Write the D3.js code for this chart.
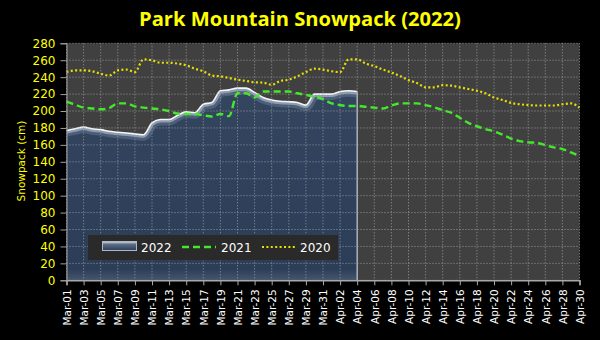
<!DOCTYPE html>
<html><head><meta charset="utf-8">
<script src="https://cdn.jsdelivr.net/npm/d3@7"></script>
<style>html,body{margin:0;padding:0;background:#000;}svg{display:block;}</style>
</head><body>
<svg id="chart" width="600" height="340"></svg>
<script>
const days = ["Mar-01","Mar-02","Mar-03","Mar-04","Mar-05","Mar-06","Mar-07","Mar-08","Mar-09","Mar-10",
"Mar-11","Mar-12","Mar-13","Mar-14","Mar-15","Mar-16","Mar-17","Mar-18","Mar-19","Mar-20",
"Mar-21","Mar-22","Mar-23","Mar-24","Mar-25","Mar-26","Mar-27","Mar-28","Mar-29","Mar-30","Mar-31",
"Apr-01","Apr-02","Apr-03","Apr-04","Apr-05","Apr-06","Apr-07","Apr-08","Apr-09","Apr-10",
"Apr-11","Apr-12","Apr-13","Apr-14","Apr-15","Apr-16","Apr-17","Apr-18","Apr-19","Apr-20",
"Apr-21","Apr-22","Apr-23","Apr-24","Apr-25","Apr-26","Apr-27","Apr-28","Apr-29","Apr-30"];
const s2022 = [177,179,181,179,178,176,175,174,173,172,186,190,190,195,199,198,208,210,224,225,
227,227,222,216,213,211.5,211,210,207,220,220,220,223,224,223];
const s2021 = [211,207.5,204,203,202,203.5,209,209,205.5,204,203,202,200,197,196.5,196.5,195,193.5,196.5,194,
221,221,216,223,223,223,223,221,219,217,214,209,207,206,206,205,204,203,206.5,209,
209,209,207,204.5,201,198,192,186,182,178.5,176,172,167.5,164.5,163,162.5,159.5,157,155,151,147];
const s2020 = [246,248,248,247,244,242,248,249,246,261,260,257,257,256,254,250,247,242,241,239,
237,235.5,234,233.5,231,235.5,237,241,246,250,249,247,246,261,261,256,253,249,245.5,241.5,
236.5,233,228,228,230.5,230,228,226,224,221,216,213,209.5,208,207,206.5,206.5,206.5,208,209,204];
const yTicks = [0,20,40,60,80,100,120,140,160,180,200,220,240,260,280];
const xTickLabels = days.filter((d,i)=>i%2===0);
const seriesNames = ["2022","2021","2020"];
const title = "Park Mountain Snowpack (2022)";
const yTitle = "Snowpack (cm)";

const L=66.5, R=579.5, T=43.3, B=280.3;
const svg = d3.select("#chart");
const x = d3.scalePoint().domain(days).range([L,R]);
const y = d3.scaleLinear().domain([0,280]).range([B,T]);
const font = "DejaVu Sans, Verdana, sans-serif";

const defs = svg.append("defs");
const ag = defs.append("linearGradient").attr("id","areaGrad").attr("x1",0).attr("y1",0).attr("x2",0).attr("y2",1);
ag.append("stop").attr("offset","0%").attr("stop-color","#33455f");
ag.append("stop").attr("offset","94%").attr("stop-color","#2c3d58");
ag.append("stop").attr("offset","100%").attr("stop-color","#46566e");
const lg = defs.append("linearGradient").attr("id","legGrad").attr("x1",0).attr("y1",0).attr("x2",0).attr("y2",1);
lg.append("stop").attr("offset","0%").attr("stop-color","#dfe6ee");
lg.append("stop").attr("offset","30%").attr("stop-color","#5d6e86");
lg.append("stop").attr("offset","100%").attr("stop-color","#2c3d58");

// plot background
svg.append("rect").attr("x",L).attr("y",T).attr("width",R-L).attr("height",B-T).attr("fill","#404040");

// area 2022
const d22 = s2022.map((v,i)=>({d:days[i],v}));
const area = d3.area().x(d=>x(d.d)).y0(B).y1(d=>y(d.v)).curve(d3.curveMonotoneX);
const topLine = d3.line().x(d=>x(d.d)).y(d=>y(d.v)).curve(d3.curveMonotoneX);
defs.append("clipPath").attr("id","areaClip").append("path").attr("d",area(d22));
svg.append("path").attr("d",area(d22)).attr("fill","url(#areaGrad)");
const glow = svg.append("g").attr("clip-path","url(#areaClip)");
glow.append("path").attr("d",topLine(d22)).attr("fill","none").attr("stroke","#8090a8").attr("stroke-width",12).attr("opacity",0.35);
glow.append("path").attr("d",topLine(d22)).attr("fill","none").attr("stroke","#b8c4d4").attr("stroke-width",6).attr("opacity",0.6);
svg.append("path").attr("d",topLine(d22)).attr("fill","none").attr("stroke","#f4f6fa").attr("stroke-width",1.6);
svg.append("line").attr("x1",x(days[s2022.length-1])).attr("x2",x(days[s2022.length-1]))
  .attr("y1",y(s2022[s2022.length-1])).attr("y2",B).attr("stroke","#a8b0bc").attr("stroke-width",1.5);

// grid
const grid = svg.append("g");
yTicks.forEach(t=>{
  grid.append("line").attr("x1",L).attr("x2",R).attr("y1",y(t)).attr("y2",y(t))
    .attr("stroke","#a8a8a8").attr("stroke-width",1).attr("stroke-dasharray","1,2").attr("opacity",0.85);
});
xTickLabels.forEach(t=>{
  grid.append("line").attr("x1",x(t)).attr("x2",x(t)).attr("y1",T).attr("y2",B)
    .attr("stroke","#a8a8a8").attr("stroke-width",1).attr("stroke-dasharray","1,2").attr("opacity",0.85);
});

// lines 2021, 2020
const line = d3.line().x((d,i)=>x(days[i])).y(d=>y(d)).curve(d3.curveMonotoneX);
svg.append("path").attr("d",line(s2020)).attr("fill","none").attr("stroke","#e8e000").attr("stroke-width",2.2).attr("stroke-dasharray","2,2.4");
svg.append("path").attr("d",line(s2021)).attr("fill","none").attr("stroke","#44e82a").attr("stroke-width",2.4).attr("stroke-dasharray","7,4");

// axes
const yAxis = svg.append("g").attr("transform",`translate(${L},0)`)
  .call(d3.axisLeft(y).tickValues(yTicks).tickSize(6).tickPadding(5));
yAxis.select(".domain").attr("stroke","#a0a0a0");
yAxis.selectAll(".tick line").attr("stroke","#a0a0a0");
yAxis.selectAll("text").attr("fill","#ffff00").style("font-family",font).style("font-size","12px");

const xAxis = svg.append("g").attr("transform",`translate(0,${B})`)
  .call(d3.axisBottom(x).tickValues(xTickLabels).tickSize(5).tickPadding(4));
xAxis.select(".domain").attr("stroke","#a8a8a8").attr("stroke-width",1.5);
xAxis.selectAll(".tick line").attr("stroke","#a8a8a8");
xAxis.selectAll("text").attr("fill","#ffffff").style("font-family",font).style("font-size","10.5px")
  .attr("transform","rotate(-90)").attr("text-anchor","end").attr("x",-9).attr("y",0).attr("dy","0.36em");

// title
const tt = svg.append("text").attr("x",300).attr("y",26).attr("text-anchor","middle")
  .attr("fill","#ffff00").style("font-family","Open Sans, DejaVu Sans, sans-serif").style("font-weight","bold").style("font-size","20px").text(title);
const tw = tt.node().getComputedTextLength();
tt.style("font-size",(20*322/tw).toFixed(2)+"px");

svg.append("text").attr("transform","translate(25,161) rotate(-90)").attr("text-anchor","middle")
  .attr("fill","#ffff00").style("font-family",font).style("font-size","10.5px").text(yTitle);

// legend
const leg = svg.append("g");
leg.append("rect").attr("x",88).attr("y",235).attr("width",250).attr("height",25).attr("fill","#2a2a2a");
leg.append("rect").attr("x",102.5).attr("y",241.5).attr("width",34).attr("height",9).attr("fill","url(#legGrad)").attr("stroke","#b0b8c4").attr("stroke-width",1);
leg.append("line").attr("x1",182).attr("x2",216).attr("y1",247).attr("y2",247).attr("stroke","#44e82a").attr("stroke-width",2.4).attr("stroke-dasharray","7,4");
leg.append("line").attr("x1",262).attr("x2",296).attr("y1",247).attr("y2",247).attr("stroke","#e8e000").attr("stroke-width",2.2).attr("stroke-dasharray","2,2.4");
[[141,seriesNames[0]],[221,seriesNames[1]],[300,seriesNames[2]]].forEach(([lx,t])=>{
  leg.append("text").attr("x",lx).attr("y",251.5).attr("fill","#ffffff").style("font-family",font).style("font-size","12px").text(t);
});
</script>
</body></html>
